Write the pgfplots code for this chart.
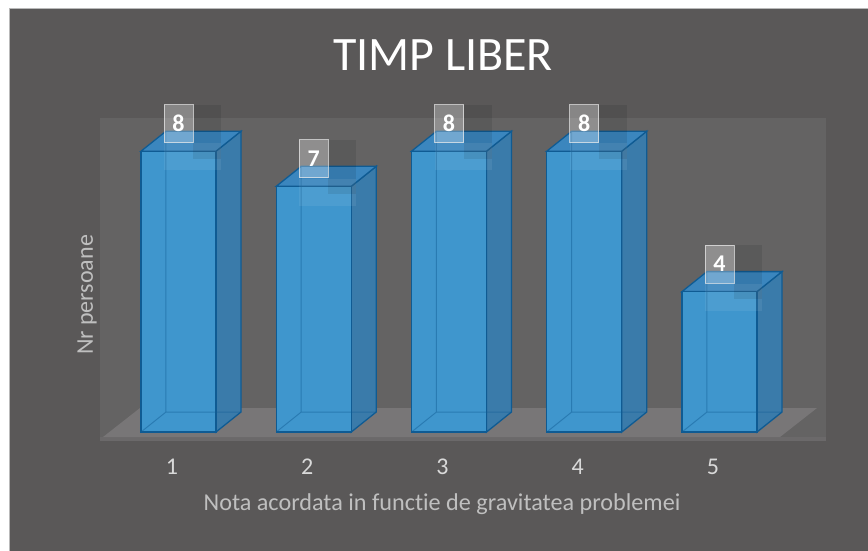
\documentclass[border=0pt]{standalone}
\usepackage{pgfplots}
\pgfplotsset{compat=1.18}
\usepackage{fontspec}
\setmainfont[Ligatures=NoCommon]{Carlito}
\definecolor{bgdark}{HTML}{5A5858}
\definecolor{wall}{HTML}{646363}
\definecolor{floorc}{HTML}{787677}
\definecolor{floorstrip}{HTML}{6B696A}
\definecolor{barfront}{HTML}{3F96CD}
\definecolor{barside}{HTML}{3A7BAA}
\definecolor{bartop}{HTML}{3B86BE}
\definecolor{baredge}{HTML}{0F5B93}
\definecolor{ticktext}{HTML}{D9D9D9}
\definecolor{labeltext}{HTML}{BFBFBF}
\begin{document}
\begin{tikzpicture}
\useasboundingbox (-100pt,-110pt) rectangle (768pt,441pt);
\fill[white] (-100pt,-110pt) rectangle (768pt,441pt);
\fill[bgdark] (-91pt,-110pt) rectangle (768pt,433pt);
\draw[gray!55, line width=0.8pt] (-91pt,-110pt) -- (-91pt,433pt) -- (768pt,433pt);
\begin{axis}[
  scale only axis, width=726pt, height=323pt,
  xmin=0.4196, xmax=5.7874, ymin=-0.256, ymax=8.946,
  axis background/.style={fill=wall},
  axis line style={draw=none},
  clip=false,
  ytick=\empty,
  xtick={1,2,3,4,5}, xticklabels={1,2,3,4,5},
  major tick length=0pt,
  xticklabel style={anchor=center, yshift=-26pt, xshift=-6.5pt, text=ticktext, font=\fontsize{24}{24}\selectfont},
  xlabel={Nota acordata in functie de gravitatea problemei},
  xlabel style={at={(axis description cs:0.4711,-0.195)}, anchor=center, text=labeltext, font=\fontsize{24.2}{24}\selectfont},
  ylabel={Nr persoane},
  ylabel style={at={(axis description cs:-0.0179,0.452)}, anchor=center, text=labeltext, font=\fontsize{24}{24}\selectfont},
  title={TIMP LIBER},
  title style={at={(axis description cs:0.4725,1.175)}, anchor=center, text=white, font=\fontsize{48}{48}\selectfont},
]
% floor
\addplot[fill=floorstrip, draw=none] coordinates {(0.4196,-0.256)(5.7874,-0.256)(5.7874,-0.1425)(0.4196,-0.1425)} -- cycle;
\addplot[fill=floorc, draw=none] coordinates {(0.4418,-0.1425)(5.4473,-0.1425)(5.7209,0.6838)(0.7153,0.6838)} -- cycle;
% side faces
\addplot[fill=barside, draw=baredge, line width=1.3pt] coordinates {(1.2773,0)(1.4621,0.5698)(1.4621,8.5698)(1.2773,8)} -- cycle;
\addplot[fill=barside, draw=baredge, line width=1.3pt] coordinates {(2.2773,0)(2.4621,0.5698)(2.4621,7.5698)(2.2773,7)} -- cycle;
\addplot[fill=barside, draw=baredge, line width=1.3pt] coordinates {(3.2773,0)(3.4621,0.5698)(3.4621,8.5698)(3.2773,8)} -- cycle;
\addplot[fill=barside, draw=baredge, line width=1.3pt] coordinates {(4.2773,0)(4.4621,0.5698)(4.4621,8.5698)(4.2773,8)} -- cycle;
\addplot[fill=barside, draw=baredge, line width=1.3pt] coordinates {(5.2773,0)(5.4621,0.5698)(5.4621,4.5698)(5.2773,4)} -- cycle;
% top faces
\addplot[fill=bartop, draw=baredge, line width=1.3pt] coordinates {(0.7227,8)(1.2773,8)(1.4621,8.5698)(0.9075,8.5698)} -- cycle;
\addplot[fill=bartop, draw=baredge, line width=1.3pt] coordinates {(1.7227,7)(2.2773,7)(2.4621,7.5698)(1.9075,7.5698)} -- cycle;
\addplot[fill=bartop, draw=baredge, line width=1.3pt] coordinates {(2.7227,8)(3.2773,8)(3.4621,8.5698)(2.9075,8.5698)} -- cycle;
\addplot[fill=bartop, draw=baredge, line width=1.3pt] coordinates {(3.7227,8)(4.2773,8)(4.4621,8.5698)(3.9075,8.5698)} -- cycle;
\addplot[fill=bartop, draw=baredge, line width=1.3pt] coordinates {(4.7227,4)(5.2773,4)(5.4621,4.5698)(4.9075,4.5698)} -- cycle;
% front faces
\addplot[ybar, bar width=75pt, bar shift=0pt, fill=barfront, draw=baredge, line width=1.3pt]
  coordinates {(1,8)(2,7)(3,8)(4,8)(5,4)};
% hidden edges seen through
\addplot[draw=baredge, draw opacity=0.45, line width=1pt, mark=none] coordinates {(0.7227,0)(0.9075,0.5698)(0.9075,8.5698)(0.9075,0.5698)(1.4621,0.5698)};
\addplot[draw=baredge, draw opacity=0.45, line width=1pt, mark=none] coordinates {(1.7227,0)(1.9075,0.5698)(1.9075,7.5698)(1.9075,0.5698)(2.4621,0.5698)};
\addplot[draw=baredge, draw opacity=0.45, line width=1pt, mark=none] coordinates {(2.7227,0)(2.9075,0.5698)(2.9075,8.5698)(2.9075,0.5698)(3.4621,0.5698)};
\addplot[draw=baredge, draw opacity=0.45, line width=1pt, mark=none] coordinates {(3.7227,0)(3.9075,0.5698)(3.9075,8.5698)(3.9075,0.5698)(4.4621,0.5698)};
\addplot[draw=baredge, draw opacity=0.45, line width=1pt, mark=none] coordinates {(4.7227,0)(4.9075,0.5698)(4.9075,4.5698)(4.9075,0.5698)(5.4621,0.5698)};
% data label shadow and highlight
\addplot[draw=none, mark=none, nodes near coords={},
  every node near coord/.style={anchor=south west, xshift=14.5pt, yshift=-8pt, inner sep=0pt, minimum width=28pt, minimum height=54pt, fill=black, fill opacity=0.09, draw=none}]
  coordinates {(1,8)(2,7)(3,8)(4,8)(5,4)};
\addplot[draw=none, mark=none, nodes near coords={},
  every node near coord/.style={anchor=north west, xshift=-14.5pt, yshift=8pt, inner sep=0pt, minimum width=57pt, minimum height=27pt, fill=white, fill opacity=0.07, draw=none}]
  coordinates {(1,8)(2,7)(3,8)(4,8)(5,4)};
% data labels
\addplot[draw=none, mark=none, nodes near coords,
  point meta=explicit symbolic,
  every node near coord/.style={anchor=south, yshift=8pt, inner sep=0pt, minimum width=29pt, minimum height=38pt, fill=white, fill opacity=0.28, draw=white!85!gray, draw opacity=0.7, line width=1pt, text opacity=1, text=white, font=\bfseries\fontsize{24}{24}\selectfont}]
  coordinates {(1,8)[8] (2,7)[7] (3,8)[8] (4,8)[8] (5,4)[4]};
\end{axis}
\end{tikzpicture}
\end{document}
